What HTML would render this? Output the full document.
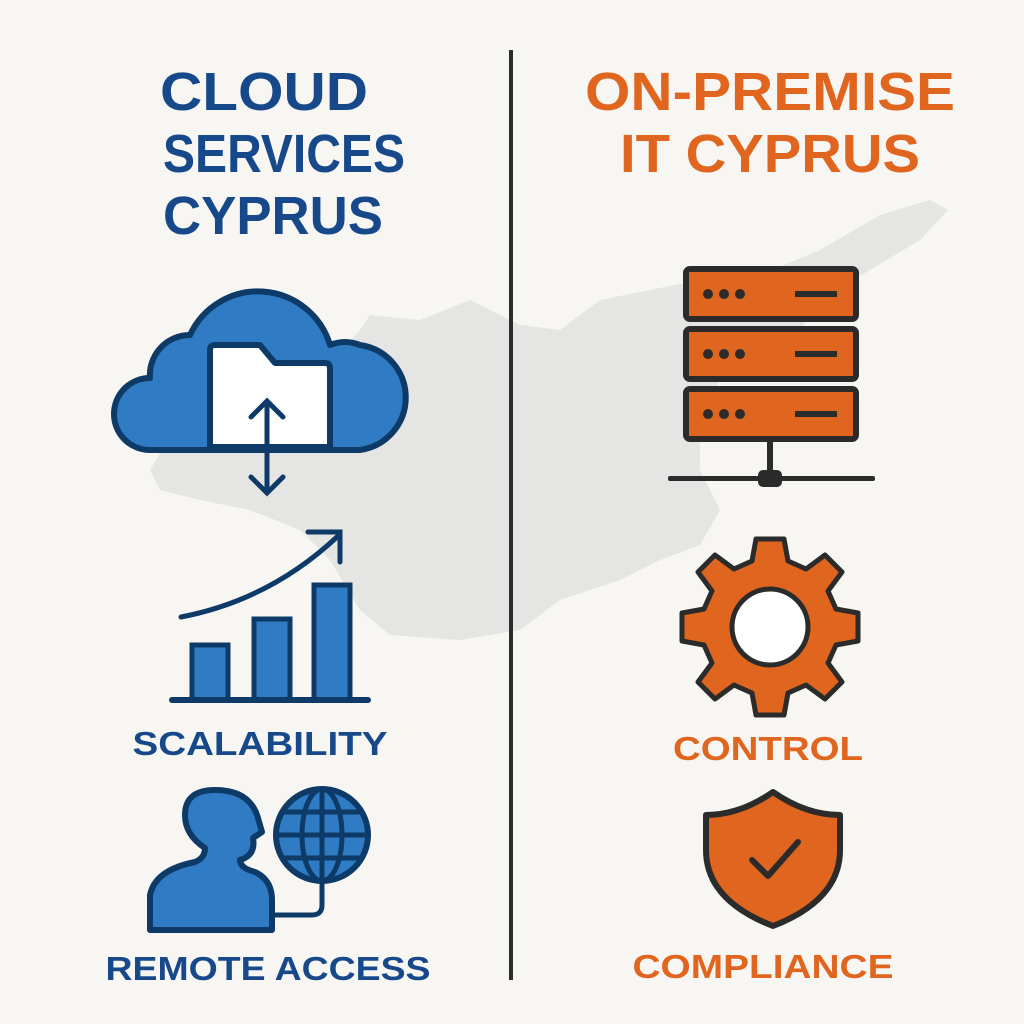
<!DOCTYPE html>
<html><head><meta charset="utf-8"><style>
html,body{margin:0;padding:0;background:#f7f6f3;}
svg{display:block}
text{font-family:"Liberation Sans",sans-serif;font-weight:bold;text-anchor:middle}
</style></head><body>
<svg width="1024" height="1024" viewBox="0 0 1024 1024" xmlns="http://www.w3.org/2000/svg">
<rect width="1024" height="1024" fill="#f7f6f3"/>
<path d="M150,470 L165,445 L200,440 L250,430 L300,395 L360,330 L370,315 L420,320 L470,300 L520,325 L560,330 L600,300 L650,290 L700,280 L760,275 L820,250 L880,215 L930,200 L948,210 L920,240 L870,270 L820,300 L800,330 L760,360 L720,380 L700,420 L700,470 L720,510 L700,545 L660,560 L620,580 L560,600 L520,630 L460,640 L390,635 L360,610 L330,560 L300,530 L250,510 L200,500 L160,490 Z" fill="#e5e5e3"/>
<line x1="511" y1="50" x2="511" y2="980" stroke="#2b2b2b" stroke-width="4"/>
<g fill="#17498a" font-size="54">
<text x="264" y="110" textLength="208" lengthAdjust="spacingAndGlyphs">CLOUD</text>
<text x="284" y="172" textLength="242" lengthAdjust="spacingAndGlyphs">SERVICES</text>
<text x="273" y="234" textLength="220" lengthAdjust="spacingAndGlyphs">CYPRUS</text>
</g>
<g fill="#e0651e" font-size="54">
<text x="770" y="110" textLength="370" lengthAdjust="spacingAndGlyphs">ON-PREMISE</text>
<text x="770" y="172" textLength="300" lengthAdjust="spacingAndGlyphs">IT CYPRUS</text>
</g>
<path d="M150,450 A36,36 0 0 1 150,378 L150,378 A40,40 0 0 1 190,335 A75,75 0 0 1 330,345 A40,40 0 0 1 360,345 A53,53 0 0 1 360,450 Z" fill="#2f7cc4" stroke="#0d3a66" stroke-width="6" stroke-linejoin="round"/>
<path d="M210,447 V350 Q210,345 215,345 H260 L275,363 H325 Q330,363 330,368 V447 Z" fill="#fff" stroke="#0d3a66" stroke-width="6" stroke-linejoin="round"/>
<line x1="267" y1="403" x2="267" y2="492" stroke="#0d3a66" stroke-width="5"/>
<polyline points="251,417 267,401 283,417" fill="none" stroke="#0d3a66" stroke-width="5" stroke-linecap="round"/>
<polyline points="251,477 267,493 283,477" fill="none" stroke="#0d3a66" stroke-width="5" stroke-linecap="round"/>
<path d="M181,617 Q270,600 338,536" fill="none" stroke="#0d3a66" stroke-width="5" stroke-linecap="round"/>
<polyline points="308,532 340,532 340,562" fill="none" stroke="#0d3a66" stroke-width="5" stroke-linecap="round"/>
<g fill="#2f7cc4" stroke="#0d3a66" stroke-width="5">
<rect x="192" y="645" width="36" height="55"/>
<rect x="254" y="619" width="36" height="81"/>
<rect x="314" y="585" width="36" height="115"/>
</g>
<line x1="172" y1="700" x2="368" y2="700" stroke="#0d3a66" stroke-width="6" stroke-linecap="round"/>
<text x="260" y="755" font-size="33" fill="#17498a" textLength="255" lengthAdjust="spacingAndGlyphs">SCALABILITY</text>
<path d="M150,930 V895 Q155,870 195,862 Q205,858 205,848 Q185,835 185,815 Q185,790 215,790 Q250,790 258,818 L262,832 L253,838 Q256,855 240,860 Q240,868 255,872 Q272,880 272,900 V930 Z" fill="#2f7cc4" stroke="#0d3a66" stroke-width="6" stroke-linejoin="round"/>
<path d="M322,883 V905 Q322,915 312,915 H272" fill="none" stroke="#0d3a66" stroke-width="5"/>
<circle cx="322" cy="835" r="46" fill="#2f7cc4" stroke="#0d3a66" stroke-width="6"/>
<g fill="none" stroke="#0d3a66" stroke-width="5">
<ellipse cx="322" cy="835" rx="20" ry="46"/>
<line x1="322" y1="789" x2="322" y2="881"/>
<line x1="276" y1="835" x2="368" y2="835"/>
<line x1="282" y1="812" x2="362" y2="812"/>
<line x1="282" y1="858" x2="362" y2="858"/>
</g>
<text x="268" y="980" font-size="33" fill="#17498a" textLength="325" lengthAdjust="spacingAndGlyphs">REMOTE ACCESS</text>
<g fill="#e0651e" stroke="#2b2b2b" stroke-width="6">
<rect x="686" y="269" width="170" height="50" rx="4"/>
<rect x="686" y="329" width="170" height="50" rx="4"/>
<rect x="686" y="389" width="170" height="50" rx="4"/>
</g>
<g fill="#2b2b2b">
<circle cx="708" cy="294" r="5"/><circle cx="724" cy="294" r="5"/><circle cx="740" cy="294" r="5"/>
<circle cx="708" cy="354" r="5"/><circle cx="724" cy="354" r="5"/><circle cx="740" cy="354" r="5"/>
<circle cx="708" cy="414" r="5"/><circle cx="724" cy="414" r="5"/><circle cx="740" cy="414" r="5"/>
<rect x="795" y="291" width="42" height="6"/><rect x="795" y="351" width="42" height="6"/><rect x="795" y="411" width="42" height="6"/>
<rect x="767" y="440" width="6" height="38"/>
<rect x="668" y="476" width="207" height="5" rx="2"/>
<rect x="758" y="470" width="24" height="17" rx="5"/>
</g>
<g transform="translate(770,627)">
<path fill="#e0651e" stroke="#2b2b2b" stroke-width="5" stroke-linejoin="round" d="M-14,-88 H14 L18,-66 L36,-58 L55,-72 L72,-55 L58,-36 L66,-18 L88,-14 V14 L66,18 L58,36 L72,55 L55,72 L36,58 L18,66 L14,88 H-14 L-18,66 L-36,58 L-55,72 L-72,55 L-58,36 L-66,18 L-88,14 V-14 L-66,-18 L-58,-36 L-72,-55 L-55,-72 L-36,-58 L-18,-66 Z"/>
<circle r="38" fill="#fff" stroke="#2b2b2b" stroke-width="5"/>
</g>
<text x="768" y="760" font-size="33" fill="#e0651e" textLength="190" lengthAdjust="spacingAndGlyphs">CONTROL</text>
<path d="M773,792 Q740,815 706,815 V850 Q706,900 773,926 Q840,900 840,850 V815 Q806,815 773,792 Z" fill="#e0651e" stroke="#2b2b2b" stroke-width="6" stroke-linejoin="round"/>
<polyline points="752,860 768,876 798,842" fill="none" stroke="#2b2b2b" stroke-width="6" stroke-linecap="round" stroke-linejoin="round"/>
<text x="763" y="978" font-size="33" fill="#e0651e" textLength="261" lengthAdjust="spacingAndGlyphs">COMPLIANCE</text>
</svg>
</body></html>
